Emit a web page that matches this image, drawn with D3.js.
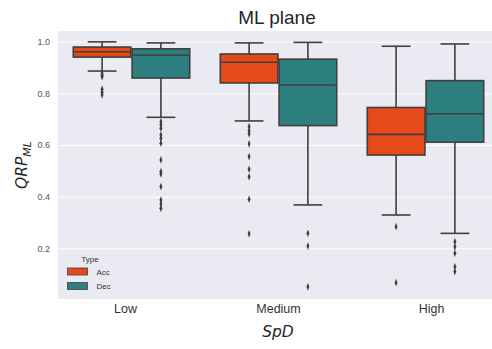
<!DOCTYPE html>
<html>
<head>
<meta charset="utf-8">
<script src="https://cdn.jsdelivr.net/npm/d3@7"></script>
<style>
  body { margin: 0; background: #fff; }
  svg { display: block; font-family: "Liberation Sans", Arial, sans-serif; }
</style>
</head>
<body>
<svg id="chart" width="492" height="349"></svg>
<script>
// ---- Data ----
const categories = ["Low", "Medium", "High"];
const types = ["Acc", "Dec"];
const typeColors = ["#E64A19", "#2E7F7F"];
const yTicks = [0.2, 0.4, 0.6, 0.8, 1.0];

// box stats: [whiskerLow, q1, median, q3, whiskerHigh]
const accStats = [
  [0.886, 0.940, 0.961, 0.979, 0.999],
  [0.693, 0.840, 0.920, 0.952, 0.995],
  [0.329, 0.561, 0.641, 0.745, 0.982]
];
const decStats = [
  [0.707, 0.859, 0.947, 0.972, 0.995],
  [0.368, 0.675, 0.832, 0.932, 0.997],
  [0.258, 0.611, 0.721, 0.849, 0.991]
];
const accOutliers = [
  [0.877, 0.870, 0.864, 0.816, 0.804, 0.794],
  [0.671, 0.655, 0.643, 0.604, 0.555, 0.506, 0.477, 0.390, 0.256],
  [0.284, 0.067]
];
const decOutliers = [
  [0.690, 0.678, 0.665, 0.639, 0.626, 0.607, 0.542, 0.497, 0.488, 0.439, 0.387, 0.372, 0.355],
  [0.258, 0.209, 0.051],
  [0.226, 0.206, 0.181, 0.129, 0.110]
];

// ---- Layout ----
const svg = d3.select("#chart");
const plot = { left: 58, top: 31, right: 499, bottom: 299 };

svg.append("defs").append("clipPath").attr("id", "clip")
  .append("rect").attr("x", 0).attr("y", 0).attr("width", 492).attr("height", 349);

const x = d3.scaleBand().domain(categories).range([plot.left, plot.right]).padding(0);
const xLabel = d3.scalePoint().domain(categories).range([125, 431]);
const hue = d3.scaleBand().domain(types).range([-0.4, 0.4]);
const y = d3.scaleLinear().domain([0.004, 1.041]).range([plot.bottom, plot.top]);

const lineColor = "#3f3f3f";
const g = svg.append("g").attr("clip-path", "url(#clip)");

// background
g.append("rect")
  .attr("x", plot.left).attr("y", plot.top)
  .attr("width", plot.right - plot.left).attr("height", plot.bottom - plot.top)
  .attr("fill", "#EAEAF2");

// grid
const yAxis = d3.axisLeft(y).tickValues(yTicks).tickFormat(d3.format(".1f"))
  .tickSize(-(plot.right - plot.left)).tickPadding(8);
const yg = g.append("g").attr("transform", `translate(${plot.left},0)`).call(yAxis);
yg.select(".domain").remove();
yg.selectAll(".tick line").attr("stroke", "#fff").attr("stroke-width", 1);
yg.selectAll(".tick text").attr("fill", "#555").attr("font-size", 9)
  .attr("font-family", "Liberation Sans, Arial, sans-serif");

const xAxis = d3.axisBottom(xLabel).tickSize(0).tickPadding(5);
const xg = g.append("g").attr("transform", `translate(0,${plot.bottom})`).call(xAxis);
xg.select(".domain").remove();
xg.selectAll(".tick text").attr("fill", "#333").attr("font-size", 12.5)
  .attr("font-family", "Liberation Sans, Arial, sans-serif");

// boxes
const bw = x.bandwidth();
const boxW = 0.392 * bw;
const allStats = [accStats, decStats];
const allOut = [accOutliers, decOutliers];
const diamond = d3.symbol().type(d3.symbolDiamond).size(11);

types.forEach((t, ti) => {
  categories.forEach((c, ci) => {
    const [wl, q1, med, q3, wh] = allStats[ti][ci];
    const cx = x(c) + bw / 2 + (hue(t) + hue.bandwidth() / 2) * bw;
    const bg = g.append("g");
    // whiskers
    bg.append("line").attr("x1", cx).attr("x2", cx).attr("y1", y(q3)).attr("y2", y(wh))
      .attr("stroke", lineColor).attr("stroke-width", 1.6);
    bg.append("line").attr("x1", cx).attr("x2", cx).attr("y1", y(q1)).attr("y2", y(wl))
      .attr("stroke", lineColor).attr("stroke-width", 1.6);
    [wl, wh].forEach(v => {
      bg.append("line").attr("x1", cx - boxW / 4).attr("x2", cx + boxW / 4)
        .attr("y1", y(v)).attr("y2", y(v))
        .attr("stroke", lineColor).attr("stroke-width", 1.6);
    });
    // box
    bg.append("rect").attr("x", cx - boxW / 2).attr("y", y(q3))
      .attr("width", boxW).attr("height", y(q1) - y(q3))
      .attr("fill", typeColors[ti]).attr("stroke", lineColor).attr("stroke-width", 1.6);
    // median
    bg.append("line").attr("x1", cx - boxW / 2).attr("x2", cx + boxW / 2)
      .attr("y1", y(med)).attr("y2", y(med))
      .attr("stroke", lineColor).attr("stroke-width", 1.6);
    // outliers
    allOut[ti][ci].forEach(v => {
      bg.append("path").attr("d", diamond())
        .attr("transform", `translate(${cx},${y(v)}) scale(0.8,1.25)`)
        .attr("fill", lineColor);
    });
  });
});

// title
svg.append("text").attr("x", 277).attr("y", 24).attr("text-anchor", "middle")
  .attr("font-size", 19).attr("fill", "#262626").text("ML plane");

// axis labels
svg.append("text").attr("x", 278).attr("y", 337).attr("text-anchor", "middle")
  .attr("font-size", 15.5).attr("font-style", "italic").attr("fill", "#262626")
  .attr("font-family", "DejaVu Sans, sans-serif").text("SpD");

const yl = svg.append("text")
  .attr("transform", `translate(27,${(plot.top + plot.bottom) / 2}) rotate(-90)`)
  .attr("text-anchor", "middle").attr("font-size", 15.5).attr("font-style", "italic")
  .attr("fill", "#262626").attr("font-family", "DejaVu Sans, sans-serif");
yl.append("tspan").text("QRP");
yl.append("tspan").attr("font-size", 11).attr("dy", 4).text("ML");

// legend
const lg = svg.append("g").attr("font-family", "Liberation Sans, Arial, sans-serif");
lg.append("text").attr("x", 90).attr("y", 262).attr("text-anchor", "middle")
  .attr("font-size", 8).attr("fill", "#333").text("Type");
types.forEach((t, i) => {
  lg.append("rect").attr("x", 67.5).attr("y", 268 + i * 14.5).attr("width", 20).attr("height", 7)
    .attr("fill", typeColors[i]).attr("stroke", lineColor).attr("stroke-width", 0.8);
  lg.append("text").attr("x", 96.5).attr("y", 274.5 + i * 14.5)
    .attr("font-size", 8).attr("fill", "#333").text(t);
});
</script>
</body>
</html>
